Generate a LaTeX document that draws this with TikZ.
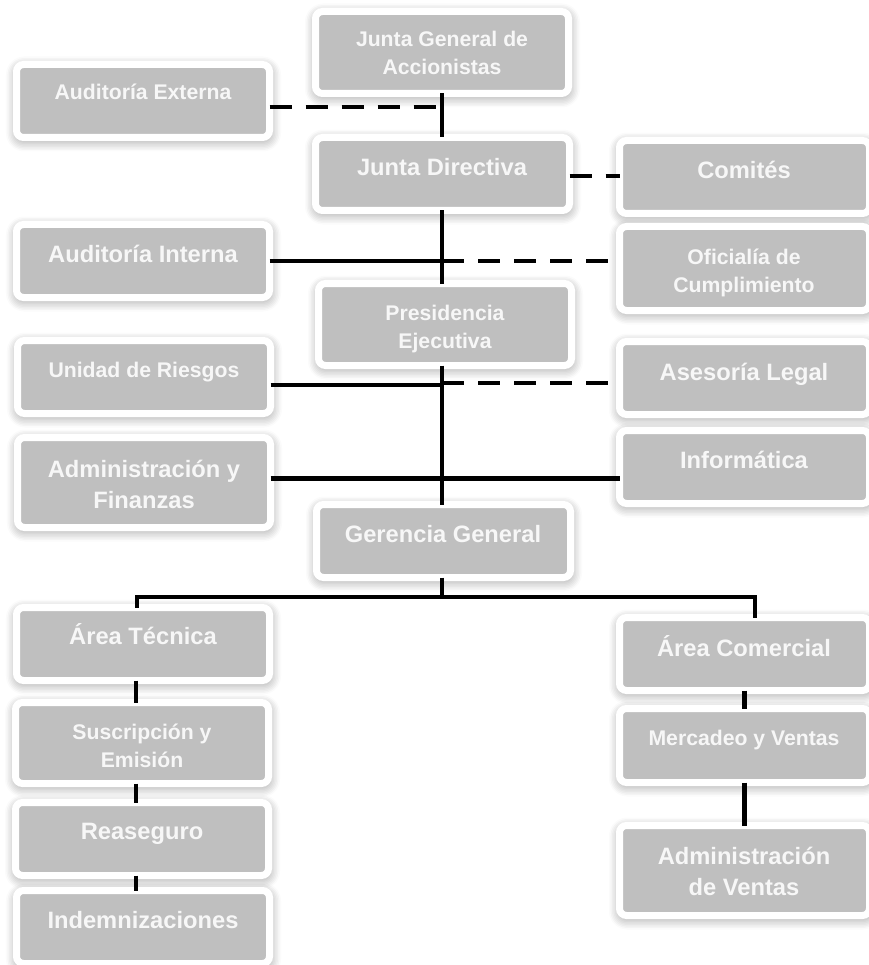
\documentclass[tikz,border=0pt]{standalone}
\usepackage{fontspec}
\setmainfont{Liberation Sans}
\usetikzlibrary{shadows.blur}
\definecolor{boxgray}{HTML}{BFBFBF}
\definecolor{txtwhite}{HTML}{F7F7F7}
\tikzset{
  orgbox/.style={draw=white, line width=7pt, fill=boxgray, rounded corners=7pt,
    inner sep=0pt, outer sep=0pt,
    blur shadow={shadow xshift=0.5pt, shadow yshift=-3pt, shadow blur steps=8,
      shadow blur radius=11pt, shadow blur extra rounding=5pt, shadow opacity=45}},
  smalltxt/.style={text=txtwhite, font=\bfseries\fontsize{21.2}{28}\selectfont, align=center, anchor=base, inner sep=0pt},
  bigtxt/.style={text=txtwhite, font=\bfseries\fontsize{23.7}{31}\selectfont, align=center, anchor=base, inner sep=0pt},
  link/.style={line width=4.5pt, black},
  dlink/.style={line width=4.5pt, black, dash pattern=on 22pt off 14pt}
}
\newcommand{\orgbox}[5]{% name, x1, y1, x2, y2 (inner gray area)
  \pgfmathsetmacro{\bw}{#4-#2+7}\pgfmathsetmacro{\bh}{#5-#3+7}
  \node[orgbox, minimum width=\bw pt, minimum height=\bh pt] (#1) at ({(#2+#4)/2},{(#3+#5)/2}) {};}
\begin{document}
\begin{tikzpicture}[x=1pt,y=-1pt]
\useasboundingbox (0,0) rectangle (868,965);
% boxes
\orgbox{jga}{319}{15}{565}{90}
\orgbox{aext}{20}{68}{266}{134}
\orgbox{jd}{319}{141}{566}{207}
\orgbox{com}{623}{144}{866}{210}
\orgbox{aint}{20}{228}{266}{294}
\orgbox{ofi}{623}{230}{866}{307}
\orgbox{pres}{322}{287}{568}{362}
\orgbox{urie}{21}{344}{267}{410}
\orgbox{ase}{623}{345}{866}{411}
\orgbox{adm}{21}{441}{267}{524}
\orgbox{inf}{623}{434}{866}{500}
\orgbox{ger}{320}{508}{567}{574}
\orgbox{atec}{20}{611}{266}{677}
\orgbox{sus}{19}{706}{265}{780}
\orgbox{rea}{19}{806}{265}{872}
\orgbox{ind}{20}{894}{266}{960}
\orgbox{acom}{623}{621}{866}{687}
\orgbox{mer}{623}{712}{866}{779}
\orgbox{adv}{623}{829}{866}{912}
% texts (multi-line: anchored at the last line's baseline)
\node[smalltxt] (tjga) at (442,75) {Junta General de\\Accionistas};
\node[smalltxt] (taext) at (143,100) {Auditoría Externa};
\node[bigtxt] (tjd) at (442,176) {Junta Directiva};
\node[bigtxt] (tcom) at (744,179) {Comités};
\node[bigtxt] (taint) at (143,263) {Auditoría Interna};
\node[smalltxt] (tofi) at (744,292) {Oficialía de\\Cumplimiento};
\node[smalltxt] (tpres) at (445,348) {Presidencia\\Ejecutiva};
\node[smalltxt] (turie) at (144,377) {Unidad de Riesgos};
\node[bigtxt] (tase) at (744,380) {Asesoría Legal};
\node[bigtxt] (tadm) at (144,508) {Administración y\\Finanzas};
\node[bigtxt] (tinf) at (744,468) {Informática};
\node[bigtxt] (tger) at (443,542) {Gerencia General};
\node[bigtxt] (tatec) at (143,644) {Área Técnica};
\node[smalltxt] (tsus) at (142,767) {Suscripción y\\Emisión};
\node[bigtxt] (trea) at (142,839) {Reaseguro};
\node[bigtxt] (tind) at (143,928) {Indemnizaciones};
\node[bigtxt] (tacom) at (744,656) {Área Comercial};
\node[smalltxt] (tmer) at (744,745) {Mercadeo y Ventas};
\node[bigtxt] (tadv) at (744,895) {Administración\\de Ventas};
% coordinates
\coordinate (trunk) at (442,0);
\coordinate (bl) at (137,597);
\coordinate (br) at (755,597);
\coordinate (cl) at (136,0);
% connectors
\draw[link] (jga.south -| trunk) -- (jd.north -| trunk);
\draw[dlink] ([yshift=-6pt]aext.east) -- ([yshift=-6pt]aext.east -| trunk);
\draw[dlink] ([yshift=-2pt]jd.east) -- ([yshift=-2pt]jd.east -| com.west);
\draw[link] (jd.south -| trunk) -- (pres.north -| trunk);
\draw[link] (aint.east) -- (aint.east -| trunk);
\draw[dlink] (aint.east -| trunk) -- (aint.east -| ofi.west);
\draw[link] (pres.south -| trunk) -- (ger.north -| trunk);
\draw[link] ([yshift=-8pt]urie.east) -- ([yshift=-8pt]urie.east -| trunk);
\draw[dlink] ([yshift=-6pt]urie.east -| trunk) -- ([yshift=-6pt]urie.east -| ase.west);
\draw[link] ([yshift=4pt]adm.east) -- ([yshift=4pt]adm.east -| inf.west);
\draw[link] (ger.south -| trunk) -- (bl -| trunk);
\draw[link] (atec.north -| bl) -- (bl) -- (br) -- (acom.north -| br);
\draw[link] (atec.south -| cl) -- (sus.north -| cl);
\draw[link] (sus.south -| cl) -- (rea.north -| cl);
\draw[link] (rea.south -| cl) -- (ind.north -| cl);
\draw[link] (acom.south) -- (mer.north);
\draw[link] (mer.south) -- (adv.north);
\end{tikzpicture}
\end{document}
